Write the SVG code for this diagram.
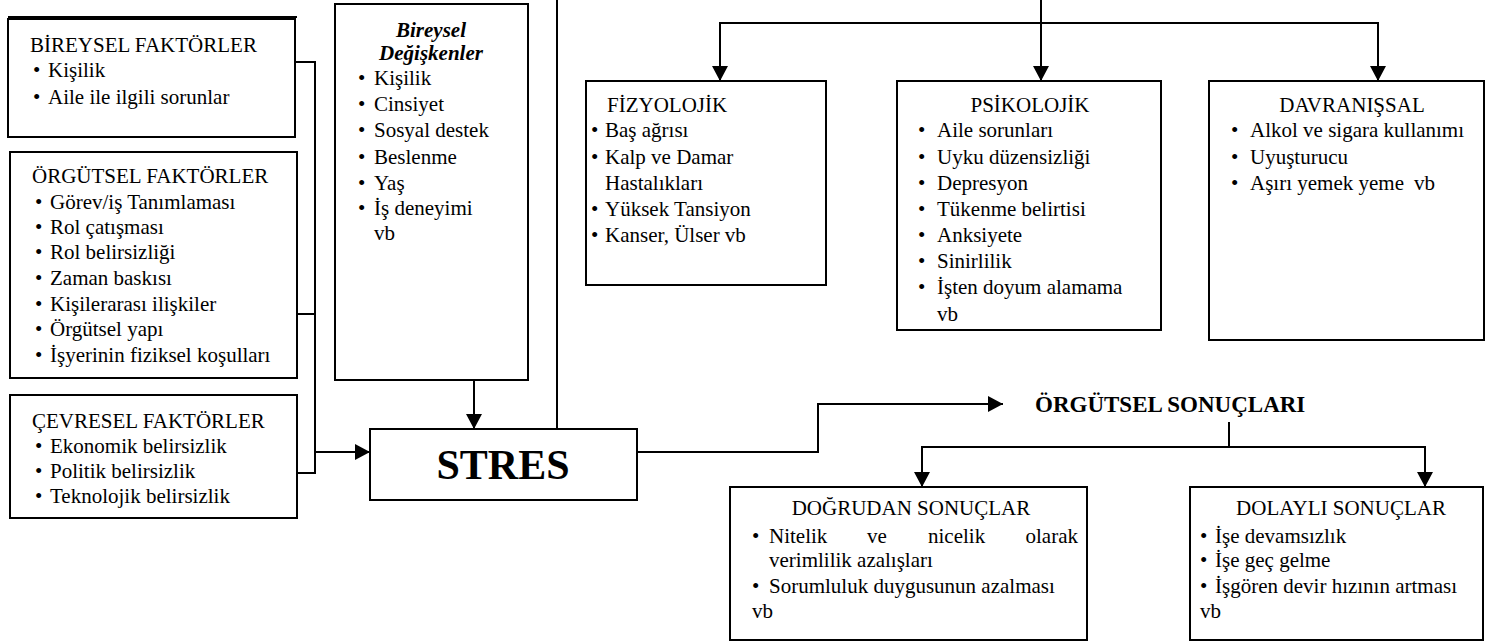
<svg xmlns="http://www.w3.org/2000/svg" width="1486" height="643" viewBox="0 0 1486 643">
<defs>
<marker id="arr" markerUnits="userSpaceOnUse" markerWidth="16" markerHeight="16" refX="15" refY="8" orient="auto">
<path d="M0,0 L15,8 L0,16 z" fill="#000"/>
</marker>
<style>
.box{fill:#fff;stroke:#000;stroke-width:2}
.ln{fill:none;stroke:#000;stroke-width:2}
text{font-family:"Liberation Serif","Times New Roman",serif;font-size:21px;fill:#000}
.bi{font-weight:bold;font-style:italic}
.b{font-weight:bold}
.c{text-anchor:middle}
</style>
</defs>
<rect width="1486" height="643" fill="#fff"/>

<g id="connectors">
<polyline class="ln" points="295,62 315,62 315,473 297,473"/>
<line class="ln" x1="297" y1="314" x2="315" y2="314"/>
<line class="ln" x1="315" y1="452" x2="370" y2="452" marker-end="url(#arr)"/>
<line class="ln" x1="474" y1="380" x2="474" y2="429" marker-end="url(#arr)"/>
<line class="ln" x1="557" y1="0" x2="557" y2="429"/>
<polyline class="ln" points="637,452 818,452 818,404 1003,404" marker-end="url(#arr)"/>
<line class="ln" x1="1041" y1="0" x2="1041" y2="81" marker-end="url(#arr)"/>
<polyline class="ln" points="720,81 720,23 1378,23 1378,81" marker-end="url(#arr)"/>
<line class="ln" x1="720" y1="23" x2="720" y2="81" marker-end="url(#arr)"/>
<line class="ln" x1="1229" y1="422" x2="1229" y2="447"/>
<polyline class="ln" points="922,487 922,447 1425,447 1425,487" marker-end="url(#arr)"/>
<line class="ln" x1="922" y1="447" x2="922" y2="487" marker-end="url(#arr)"/>
</g>

<g id="bireysel-faktorler">
<line class="ln" x1="8" y1="17" x2="297" y2="17"/>
<rect class="box" x="8" y="19" width="287" height="118"/>
<text x="30" y="52">BİREYSEL FAKTÖRLER</text>
<text x="33" y="77">•</text><text x="48" y="77">Kişilik</text>
<text x="33" y="104">•</text><text x="48" y="104">Aile ile ilgili sorunlar</text>
</g>

<g id="orgutsel-faktorler">
<rect class="box" x="10" y="152" width="287" height="226"/>
<text x="32" y="183">ÖRGÜTSEL FAKTÖRLER</text>
<text x="35" y="209">•</text><text x="50" y="209">Görev/iş Tanımlaması</text>
<text x="35" y="234">•</text><text x="50" y="234">Rol çatışması</text>
<text x="35" y="259">•</text><text x="50" y="259">Rol belirsizliği</text>
<text x="35" y="285">•</text><text x="50" y="285">Zaman baskısı</text>
<text x="35" y="311">•</text><text x="50" y="311">Kişilerarası ilişkiler</text>
<text x="35" y="336">•</text><text x="50" y="336">Örgütsel yapı</text>
<text x="35" y="362">•</text><text x="50" y="362">İşyerinin fiziksel koşulları</text>
</g>

<g id="cevresel-faktorler">
<rect class="box" x="10" y="395" width="287" height="123"/>
<text x="32" y="428">ÇEVRESEL FAKTÖRLER</text>
<text x="35" y="453">•</text><text x="50" y="453">Ekonomik belirsizlik</text>
<text x="35" y="478">•</text><text x="50" y="478">Politik belirsizlik</text>
<text x="35" y="503">•</text><text x="50" y="503">Teknolojik belirsizlik</text>
</g>

<g id="bireysel-degiskenler">
<rect class="box" x="335" y="4" width="193" height="376"/>
<text class="bi c" x="431" y="37">Bireysel</text>
<text class="bi c" x="431" y="60">Değişkenler</text>
<text x="358" y="85">•</text><text x="374" y="85">Kişilik</text>
<text x="358" y="111">•</text><text x="374" y="111">Cinsiyet</text>
<text x="358" y="137">•</text><text x="374" y="137">Sosyal destek</text>
<text x="358" y="164">•</text><text x="374" y="164">Beslenme</text>
<text x="358" y="190">•</text><text x="374" y="190">Yaş</text>
<text x="358" y="215">•</text><text x="374" y="215">İş deneyimi</text>
<text x="374" y="240">vb</text>
</g>

<g id="stres">
<rect class="box" x="370" y="429" width="267" height="71"/>
<text class="b c" x="503" y="479" style="font-size:42px">STRES</text>
</g>

<g id="fizyolojik">
<rect class="box" x="586" y="81" width="240" height="204"/>
<text x="607" y="112">FİZYOLOJİK</text>
<text x="591" y="137">•</text><text x="605" y="137">Baş ağrısı</text>
<text x="591" y="164">•</text><text x="605" y="164">Kalp ve Damar</text>
<text x="605" y="190">Hastalıkları</text>
<text x="591" y="216">•</text><text x="605" y="216">Yüksek Tansiyon</text>
<text x="591" y="242">•</text><text x="605" y="242">Kanser, Ülser vb</text>
</g>

<g id="psikolojik">
<rect class="box" x="897" y="81" width="264" height="249"/>
<text class="c" x="1030" y="112">PSİKOLOJİK</text>
<text x="918" y="137">•</text><text x="937" y="137">Aile sorunları</text>
<text x="918" y="164">•</text><text x="937" y="164">Uyku düzensizliği</text>
<text x="918" y="190">•</text><text x="937" y="190">Depresyon</text>
<text x="918" y="216">•</text><text x="937" y="216">Tükenme belirtisi</text>
<text x="918" y="242">•</text><text x="937" y="242">Anksiyete</text>
<text x="918" y="268">•</text><text x="937" y="268">Sinirlilik</text>
<text x="918" y="294">•</text><text x="937" y="294">İşten doyum alamama</text>
<text x="937" y="321">vb</text>
</g>

<g id="davranissal">
<rect class="box" x="1209" y="81" width="275" height="259"/>
<text class="c" x="1352" y="112">DAVRANIŞSAL</text>
<text x="1231" y="137">•</text><text x="1250" y="137">Alkol ve sigara kullanımı</text>
<text x="1231" y="164">•</text><text x="1250" y="164">Uyuşturucu</text>
<text x="1231" y="190">•</text><text x="1250" y="190">Aşırı yemek yeme<tspan dx="10">vb</tspan></text>
</g>

<g id="orgutsel-sonuclari">
<text class="b" x="1035" y="412" style="font-size:23px">ÖRGÜTSEL SONUÇLARI</text>
</g>

<g id="dogrudan-sonuclar">
<rect class="box" x="730" y="487" width="357" height="153"/>
<text class="c" x="911" y="515">DOĞRUDAN SONUÇLAR</text>
<text x="752" y="543">•</text><text x="769" y="543">Nitelik</text><text x="867" y="543">ve</text><text x="928" y="543">nicelik</text><text x="1078" y="543" style="text-anchor:end">olarak</text>
<text x="769" y="567">verimlilik azalışları</text>
<text x="752" y="593">•</text><text x="769" y="593">Sorumluluk duygusunun azalması</text>
<text x="752" y="618">vb</text>
</g>

<g id="dolayli-sonuclar">
<rect class="box" x="1190" y="487" width="293" height="153"/>
<text class="c" x="1341" y="515">DOLAYLI SONUÇLAR</text>
<text x="1200" y="543">•</text><text x="1215" y="543">İşe devamsızlık</text>
<text x="1200" y="567">•</text><text x="1215" y="567">İşe geç gelme</text>
<text x="1200" y="593">•</text><text x="1215" y="593">İşgören devir hızının artması</text>
<text x="1200" y="618">vb</text>
</g>
</svg>
